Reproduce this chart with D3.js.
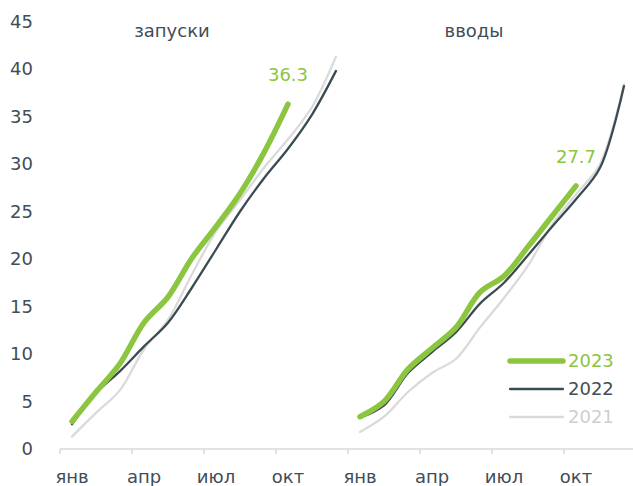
<!DOCTYPE html>
<html>
<head>
<meta charset="utf-8">
<script src="https://cdn.jsdelivr.net/npm/d3@7"></script>
<style>
  html, body { margin: 0; padding: 0; background: #fff; }
  svg { display: block; font-family: "DejaVu Sans", Verdana, sans-serif; }
</style>
</head>
<body>
<div id="chart"></div>
<script>
// months, one panel = 12 of them
const months = ["янв","фев","мар","апр","май","июн","июл","авг","сен","окт","ноя","дек"]
const panels = ["запуски", "вводы"]
const yTicks = [0, 5, 10, 15, 20, 25, 30, 35, 40, 45]
const years = ["2023", "2022", "2021"]

// cumulative, by month
const launches2023 = [2.9, 6.0, 9.0, 13.3, 16.0, 20.1, 23.4, 26.9, 31.2, 36.3]
const launches2022 = [2.6, 5.9, 8.2, 10.8, 13.3, 17.0, 21.0, 25.0, 28.5, 31.6, 35.2, 39.8]
const launches2021 = [1.3, 3.8, 6.2, 10.5, 13.6, 18.4, 22.9, 26.2, 29.6, 32.6, 36.0, 41.3]

const commission2023 = [3.4, 5.0, 8.4, 10.6, 12.8, 16.5, 18.2, 21.3, 24.5, 27.7]
const commission2022 = [3.3, 4.6, 8.0, 10.2, 12.3, 15.3, 17.5, 20.4, 23.4, 26.3, 29.6, 38.2]
const commission2021 = [1.8, 3.4, 6.0, 8.0, 9.5, 12.8, 15.9, 19.3, 23.6, 26.8, 30.0, 38.4]

const colors = {"2023": "#8cc540", "2022": "#3b4b53", "2021": "#dadada"}
const widths = {"2023": 5.5, "2022": 2.3, "2021": 2.3}
const textColor = "#3f4e57"

const width = 633, height = 486

// 24 categories: two panels of 12 months side by side
const cats = []
panels.forEach(function(p, pi) {
    months.forEach(function(m, mi) { cats.push(pi + "-" + mi) })
})

const xScale = d3.scaleBand()
    .domain(cats)
    .range([60, 636])

const yScale = d3.scaleLinear()
    .domain([0, 45])
    .range([449, 21.5])

const svg = d3.select("#chart")
    .append("svg")
    .attr("width", width)
    .attr("height", height)

// y labels, no axis line
svg.append("g")
    .selectAll("text")
    .data(yTicks).enter()
    .append("text")
    .attr("x", 33)
    .attr("y", function(d) { return yScale(d) })
    .attr("dy", "0.36em")
    .attr("text-anchor", "end")
    .attr("font-size", 18)
    .attr("fill", textColor)
    .text(function(d) { return d })

// x axis: ticks between categories every 3 months, labels on band centers
const tickCats = cats.filter(function(c, i) { return i % 3 == 0 })
const xAxis = svg.append("g")
xAxis.append("line")
    .attr("x1", xScale.range()[0])
    .attr("x2", xScale.range()[1])
    .attr("y1", yScale(0))
    .attr("y2", yScale(0))
    .attr("stroke", "#d9d9d9")
    .attr("stroke-width", 1.5)
xAxis.selectAll(".tick")
    .data(tickCats.concat(["end"])).enter()
    .append("line")
    .attr("x1", function(d) { return d == "end" ? xScale.range()[1] : xScale(d) })
    .attr("x2", function(d) { return d == "end" ? xScale.range()[1] : xScale(d) })
    .attr("y1", yScale(0))
    .attr("y2", yScale(0) + 5)
    .attr("stroke", "#d9d9d9")
    .attr("stroke-width", 1.5)
xAxis.selectAll("text")
    .data(tickCats).enter()
    .append("text")
    .attr("x", function(d) { return xScale(d) + xScale.bandwidth() / 2 })
    .attr("y", 483)
    .attr("text-anchor", "middle")
    .attr("font-size", 18)
    .attr("fill", textColor)
    .text(function(d) { return months[+d.split("-")[1]] })

const panelData = [
    {name: panels[0], series: {"2023": launches2023, "2022": launches2022, "2021": launches2021}},
    {name: panels[1], series: {"2023": commission2023, "2022": commission2022, "2021": commission2021}}
]

const line = d3.line()
    .x(function(d) { return xScale(d.key) + xScale.bandwidth() / 2 })
    .y(function(d) { return yScale(d.val) })
    .curve(d3.curveCatmullRom.alpha(0.5))

panelData.forEach(function(p, pi) {
    const first = xScale(pi + "-0")
    const last = xScale(pi + "-11") + xScale.bandwidth()
    // panel title
    svg.append("text")
        .attr("x", (first + last) / 2 + (pi == 0 ? -32 : -18))
        .attr("y", 37)
        .attr("text-anchor", "middle")
        .attr("font-size", 18)
        .attr("fill", textColor)
        .text(p.name)

    // draw older years first so 2023 is on top
    years.slice().reverse().forEach(function(yr) {
        const pts = p.series[yr].map(function(v, i) { return {key: pi + "-" + i, val: v} })
        svg.append("path")
            .datum(pts)
            .attr("d", line)
            .attr("fill", "none")
            .attr("stroke", colors[yr])
            .attr("stroke-width", widths[yr])
            .attr("stroke-linecap", "round")
            .attr("stroke-linejoin", "round")
    })

    // label for last 2023 value
    const cur = p.series["2023"]
    const lastKey = pi + "-" + (cur.length - 1)
    svg.append("text")
        .attr("x", xScale(lastKey) + xScale.bandwidth() / 2)
        .attr("y", yScale(cur[cur.length - 1]) - 23)
        .attr("text-anchor", "middle")
        .attr("font-size", 18)
        .attr("fill", colors["2023"])
        .text(cur[cur.length - 1].toFixed(1))
})

// legend
const legend = svg.append("g").attr("transform", "translate(510, 361)")
years.forEach(function(yr, i) {
    legend.append("line")
        .attr("x1", 0)
        .attr("x2", 53)
        .attr("y1", i * 28)
        .attr("y2", i * 28)
        .attr("stroke", colors[yr])
        .attr("stroke-width", widths[yr])
        .attr("stroke-linecap", "round")
    legend.append("text")
        .attr("x", 58)
        .attr("y", i * 28)
        .attr("dy", "0.36em")
        .attr("font-size", 18)
        .attr("fill", yr == "2022" ? textColor : (yr == "2021" ? "#cfcfcf" : colors[yr]))
        .text(yr)
})
</script>
</body>
</html>
